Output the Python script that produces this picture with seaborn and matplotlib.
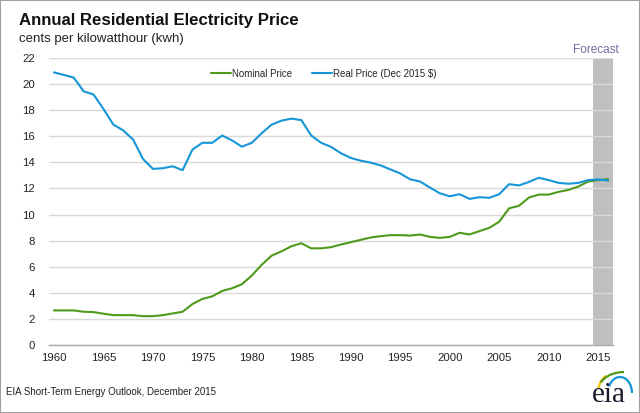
import numpy as np
import pandas as pd
import matplotlib
matplotlib.use('Agg')
import matplotlib.pyplot as plt
from matplotlib.patches import Rectangle, Arc
import seaborn as sns

years = list(range(1960, 2017))

nominal = [2.65, 2.65, 2.65, 2.55, 2.52, 2.40, 2.29, 2.29, 2.29, 2.21,
           2.21, 2.29, 2.42, 2.55, 3.14, 3.53, 3.73, 4.14, 4.35, 4.66,
           5.33, 6.15, 6.85, 7.18, 7.57, 7.80, 7.41, 7.41, 7.50, 7.70,
           7.88, 8.06, 8.24, 8.34, 8.42, 8.42, 8.39, 8.47, 8.29, 8.21,
           8.29, 8.60, 8.47, 8.73, 8.98, 9.45, 10.48, 10.67, 11.30, 11.53,
           11.53, 11.74, 11.89, 12.15, 12.53, 12.64, 12.72]

real = [20.90, 20.70, 20.50, 19.45, 19.20, 18.10, 16.90, 16.45, 15.75, 14.26,
        13.50, 13.55, 13.70, 13.40, 14.98, 15.50, 15.50, 16.06, 15.68, 15.20,
        15.50, 16.24, 16.89, 17.20, 17.35, 17.24, 16.06, 15.50, 15.19, 14.70,
        14.34, 14.13, 13.98, 13.77, 13.46, 13.15, 12.70, 12.53, 12.07, 11.63,
        11.40, 11.56, 11.20, 11.33, 11.28, 11.56, 12.33, 12.23, 12.50, 12.82,
        12.64, 12.43, 12.36, 12.43, 12.64, 12.69, 12.60]

series_names = ['Nominal Price', 'Real Price (Dec 2015 $)']
colors = ['#4e9a1a', '#1696d8']
label_years = list(range(1960, 2016, 5))
y_ticks = list(range(0, 23, 2))

df = pd.concat([
    pd.DataFrame({'year': years, 'price': nominal, 'series': series_names[0]}),
    pd.DataFrame({'year': years, 'price': real, 'series': series_names[1]}),
])

sns.set_style('white')
plt.rcParams['font.family'] = ['Liberation Sans', 'DejaVu Sans']

W, H = 640, 413
fig = plt.figure(figsize=(W / 100, H / 100), dpi=100)
ax = fig.add_axes([49 / W, (H - 345) / H, (613 - 49) / W, (345 - 58) / H])

ax.axvspan(2014.5, 2016.5, color='#bfbfbf', zorder=0.5, lw=0)
sns.lineplot(data=df, x='year', y='price', hue='series', palette=colors,
             linewidth=1.5, ax=ax, legend=False, zorder=3)

ax.set_xlim(1959.5, 2016.5)
ax.set_ylim(0, 22)
ax.set_yticks(y_ticks)
ax.set_xticks(label_years)
ax.set_xticks(np.arange(1959.5, 2017, 1), minor=True)
ax.set_xlabel('')
ax.set_ylabel('')
ax.grid(axis='y', color='#d9d9d9', lw=1)
ax.grid(axis='x', visible=False)
ax.set_axisbelow(True)
for s in ['left', 'right', 'top']:
    ax.spines[s].set_visible(False)
ax.spines['bottom'].set_color('#a6a6a6')
ax.spines['bottom'].set_linewidth(1)
ax.tick_params(axis='x', which='major', length=0, pad=6, labelsize=8.2, colors='#222222')
ax.tick_params(axis='x', which='minor', length=3, width=0.8, color='#a6a6a6', direction='out')
ax.tick_params(axis='y', length=0, pad=10, labelsize=8.2, colors='#222222')

# legend
handles = [plt.Line2D([], [], color=c, lw=1.5) for c in colors]
ax.legend(handles, series_names, loc='upper left', bbox_to_anchor=(0.268, 1.0),
          ncol=2, frameon=False, fontsize=7.0, handlelength=2.1,
          handletextpad=0.1, columnspacing=2.0, borderaxespad=0.7)

fig.text(19 / W, 1 - 25 / H, 'Annual Residential Electricity Price',
         fontsize=12.1, fontweight='bold', color='#111111', va='baseline')
fig.text(19 / W, 1 - 42 / H, 'cents per kilowatthour (kwh)',
         fontsize=9.5, color='#222222', va='baseline')
fig.text(596 / W, 1 - 50 / H, 'Forecast', fontsize=8.5, color='#6e6e9e',
         ha='center', va='center')
fig.text(6 / W, 1 - 392 / H, 'EIA Short-Term Energy Outlook, December 2015',
         fontsize=7.0, color='#222222', va='center')

# eia logo
fig.text(609 / W, 1 - 402 / H, 'eia', fontsize=21, family='Liberation Serif',
         color='#1a1a2e', ha='center', va='baseline')
# (cx, cy from top, rx, ry, theta1, theta2, colour)
logo_arcs = [(614, 393, 16, 20, 115, 165, '#f5c400'),
             (624, 391, 26, 19, 90, 160, '#4e9a1a'),
             (620, 393, 12, 16, 0, 150, '#1696d8')]
for cx, cy, rx, ry, t1, t2, c in logo_arcs:
    arc = Arc((cx, H - cy), 2 * rx, 2 * ry, theta1=t1, theta2=t2, color=c, lw=1.6,
              transform=None)
    fig.patches.append(arc)

fig.patches.append(Rectangle((0, 0), 1, 1, transform=fig.transFigure, fill=False,
                             edgecolor='#a0a0a0', lw=1.5))

fig.savefig('out.png', dpi=100)
